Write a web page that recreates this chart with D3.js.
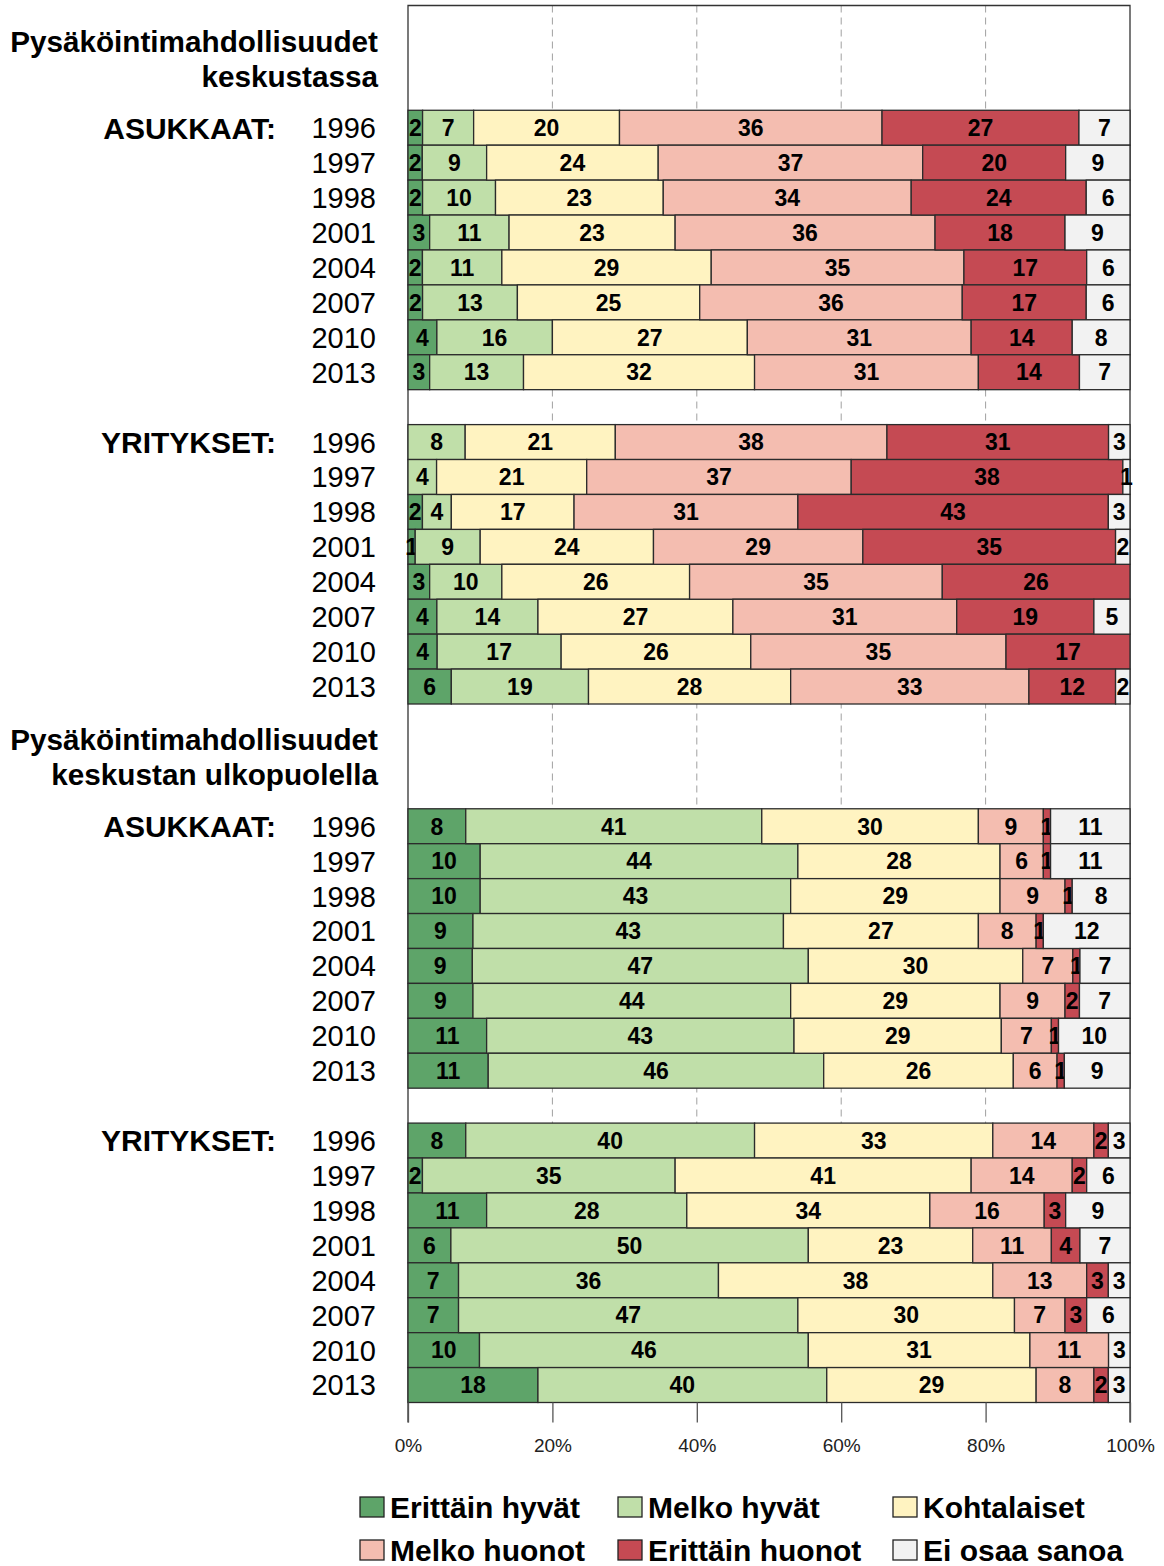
<!DOCTYPE html>
<html>
<head>
<meta charset="utf-8">
<script src="https://cdn.jsdelivr.net/npm/d3@7"></script>
<style>
  body { margin: 0; background: #fff; }
  text { font-family: "Liberation Sans", Arial, Helvetica, sans-serif; }
</style>
</head>
<body>
<div id="wrapper"></div>
<script>
// categories, in stacking order
const categories = ["Erittäin hyvät", "Melko hyvät", "Kohtalaiset", "Melko huonot", "Erittäin huonot", "Ei osaa sanoa"]
const colors = ["#5ea469", "#c0dfa9", "#fff3c1", "#f4bdb0", "#c54a53", "#f2f2f2"]
const years = ["1996", "1997", "1998", "2001", "2004", "2007", "2010", "2013"]
const sections = ["Pysäköintimahdollisuudet|keskustassa", "Pysäköintimahdollisuudet|keskustan ulkopuolella"]
const groups = ["ASUKKAAT:", "YRITYKSET:"]
const tickLabels = ["0%", "20%", "40%", "60%", "80%", "100%"]

// values per year (percent), in category order
const keskustaAsukkaat = [
  [2, 7, 20, 36, 27, 7],
  [2, 9, 24, 37, 20, 9],
  [2, 10, 23, 34, 24, 6],
  [3, 11, 23, 36, 18, 9],
  [2, 11, 29, 35, 17, 6],
  [2, 13, 25, 36, 17, 6],
  [4, 16, 27, 31, 14, 8],
  [3, 13, 32, 31, 14, 7],
]
const keskustaYritykset = [
  [0, 8, 21, 38, 31, 3],
  [0, 4, 21, 37, 38, 1],
  [2, 4, 17, 31, 43, 3],
  [1, 9, 24, 29, 35, 2],
  [3, 10, 26, 35, 26, 0],
  [4, 14, 27, 31, 19, 5],
  [4, 17, 26, 35, 17, 0],
  [6, 19, 28, 33, 12, 2],
]
const ulkoAsukkaat = [
  [8, 41, 30, 9, 1, 11],
  [10, 44, 28, 6, 1, 11],
  [10, 43, 29, 9, 1, 8],
  [9, 43, 27, 8, 1, 12],
  [9, 47, 30, 7, 1, 7],
  [9, 44, 29, 9, 2, 7],
  [11, 43, 29, 7, 1, 10],
  [11, 46, 26, 6, 1, 9],
]
const ulkoYritykset = [
  [8, 40, 33, 14, 2, 3],
  [2, 35, 41, 14, 2, 6],
  [11, 28, 34, 16, 3, 9],
  [6, 50, 23, 11, 4, 7],
  [7, 36, 38, 13, 3, 3],
  [7, 47, 30, 7, 3, 6],
  [10, 46, 31, 11, 0, 3],
  [18, 40, 29, 8, 2, 3],
]

function drawChart() {
  // 1. row layout: 3 empty rows for section title, 8 rows, 1 empty, 8 rows
  const blocks = [
    {section: 0, group: 0, values: keskustaAsukkaat},
    {section: 0, group: 1, values: keskustaYritykset},
    {section: 1, group: 0, values: ulkoAsukkaat},
    {section: 1, group: 1, values: ulkoYritykset},
  ]
  let rows = []
  let titles = []
  let idx = 0
  blocks.forEach(b => {
    if (b.group == 0) {
      titles.push({section: b.section, row: idx + 1})
      idx += 3
    } else {
      idx += 1
    }
    b.values.forEach((v, i) => {
      rows.push({row: idx, year: years[i], group: i == 0 ? groups[b.group] : null, values: v})
      idx++
    })
  })
  const nRows = idx

  // 2. dimensions
  const dimensions = {
    width: 1164,
    height: 1566,
    margin: {top: 5.5, left: 408, right: 34},
    boundedHeight: 1397,
  }
  dimensions.boundedWidth = dimensions.width - dimensions.margin.left - dimensions.margin.right

  const svg = d3.select("#wrapper").append("svg")
    .attr("width", dimensions.width)
    .attr("height", dimensions.height)

  const bounds = svg.append("g")
    .attr("transform", `translate(${dimensions.margin.left},${dimensions.margin.top})`)

  // 3. scales
  const xScale = d3.scaleLinear().domain([0, 1]).range([0, dimensions.boundedWidth])
  const yScale = d3.scaleBand().domain(d3.range(nRows)).range([0, dimensions.boundedHeight]).padding(0)
  const color = d3.scaleOrdinal().domain(categories).range(colors)

  // grid
  bounds.append("g").selectAll("line")
    .data([0.2, 0.4, 0.6, 0.8])
    .join("line")
      .attr("x1", d => xScale(d)).attr("x2", d => xScale(d))
      .attr("y1", 0).attr("y2", dimensions.boundedHeight)
      .attr("stroke", "#a0a0a0")
      .attr("stroke-width", 1)
      .attr("stroke-dasharray", "7 5")

  // frame
  bounds.append("path")
    .attr("d", `M0,${dimensions.boundedHeight + 20}V0H${xScale(1)}V${dimensions.boundedHeight + 20}`)
    .attr("fill", "none")
    .attr("stroke", "#333")
    .attr("stroke-width", 1.3)

  // 4. bars (each row normalised to its own total)
  rows.forEach(r => {
    const total = d3.sum(r.values)
    r.norm = r.values.map(v => v / total)
  })
  const series = d3.stack().keys(d3.range(categories.length))(rows.map(r => r.norm))

  const barLayer = bounds.append("g")
  series.forEach((ser, k) => {
    const g = barLayer.append("g").attr("fill", colors[k])
    const segs = ser.map((s, j) => ({x0: s[0], x1: s[1], row: rows[j].row, v: rows[j].values[k]}))
      .filter(d => d.v > 0)
    g.selectAll("rect")
      .data(segs)
      .join("rect")
        .attr("x", d => xScale(d.x0))
        .attr("y", d => yScale(d.row))
        .attr("width", d => xScale(d.x1) - xScale(d.x0))
        .attr("height", yScale.bandwidth())
        .attr("stroke", "#2b2b2b")
        .attr("stroke-width", 1.3)
    g.selectAll("text")
      .data(segs)
      .join("text")
        .attr("x", d => (xScale(d.x0) + xScale(d.x1)) / 2)
        .attr("y", d => yScale(d.row) + yScale.bandwidth() / 2)
        .attr("dy", "0.36em")
        .attr("text-anchor", "middle")
        .attr("fill", "#000")
        .style("font-size", "23px")
        .style("font-weight", "bold")
        .text(d => d.v)
  })

  // 5. row labels
  const labels = svg.append("g")
  labels.selectAll("text.year")
    .data(rows)
    .join("text")
      .attr("class", "year")
      .attr("x", 376)
      .attr("y", d => dimensions.margin.top + yScale(d.row) + yScale.bandwidth() / 2)
      .attr("dy", "0.36em")
      .attr("text-anchor", "end")
      .style("font-size", "29px")
      .text(d => d.year)

  labels.selectAll("text.group")
    .data(rows.filter(d => d.group))
    .join("text")
      .attr("class", "group")
      .attr("x", 276)
      .attr("y", d => dimensions.margin.top + yScale(d.row) + yScale.bandwidth() / 2)
      .attr("dy", "0.36em")
      .attr("text-anchor", "end")
      .style("font-size", "30px")
      .style("font-weight", "bold")
      .text(d => d.group)

  titles.forEach(t => {
    const cy = dimensions.margin.top + yScale(t.row) + yScale.bandwidth() / 2
    sections[t.section].split("|").forEach((line, i) => {
      labels.append("text")
        .attr("x", 378)
        .attr("y", cy + (i == 0 ? -17 : 18))
        .attr("dy", "0.36em")
        .attr("text-anchor", "end")
        .style("font-size", "29.7px")
        .style("font-weight", "bold")
        .text(line)
    })
  })

  // 6. x axis
  const xAxis = bounds.append("g")
    .attr("transform", `translate(0,${dimensions.boundedHeight})`)
    .call(d3.axisBottom(xScale).tickValues([0, 0.2, 0.4, 0.6, 0.8, 1]).tickSize(20).tickFormat((d, i) => tickLabels[i]))
  xAxis.select(".domain").remove()
  xAxis.selectAll(".tick line").attr("stroke", "#555").attr("stroke-width", 1.3)
  xAxis.selectAll(".tick text")
    .attr("y", 36)
    .attr("fill", "#222")
    .style("font-size", "19px")
    .style("font-family", "'Liberation Sans', Arial, sans-serif")

  // legend
  const legendX = [360, 618, 893]
  const legend = svg.append("g")
  const items = legend.selectAll("g")
    .data(categories)
    .join("g")
      .attr("transform", (d, i) => `translate(${legendX[i % 3]},${1507 + Math.floor(i / 3) * 43})`)
  items.append("rect")
    .attr("x", 0).attr("y", -10)
    .attr("width", 24).attr("height", 20)
    .attr("fill", d => color(d))
    .attr("stroke", "#222")
    .attr("stroke-width", 1.3)
  items.append("text")
    .attr("x", 30)
    .attr("dy", "0.36em")
    .style("font-size", "30px")
    .style("font-weight", "bold")
    .text(d => d)
}
drawChart()
</script>
</body>
</html>
